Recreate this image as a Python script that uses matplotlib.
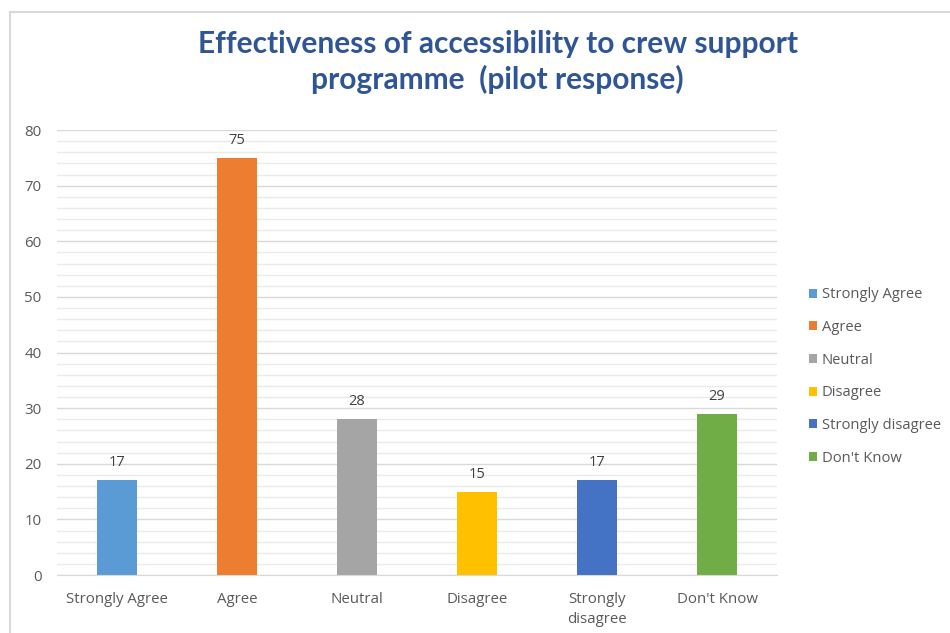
import matplotlib.pyplot as plt
from matplotlib.lines import Line2D
from matplotlib.patches import Patch

categories = ['Strongly Agree', 'Agree', 'Neutral', 'Disagree', 'Strongly disagree', "Don't Know"]
tick_labels = ['Strongly Agree', 'Agree', 'Neutral', 'Disagree', 'Strongly\ndisagree', "Don't Know"]
counts = [17, 75, 28, 15, 17, 29]
colors = ['#5B9BD5', '#ED7D31', '#A5A5A5', '#FFC000', '#4472C4', '#70AD47']

plt.rcParams['font.family'] = ['Open Sans', 'DejaVu Sans']

fig = plt.figure(figsize=(9.5, 6.33), dpi=100)
ax = fig.add_axes([0.060, 0.0916, 0.758, 0.703])

x = range(len(categories))
ax.bar(x, counts, width=0.333, color=colors, zorder=3)
for xi, v in zip(x, counts):
    ax.text(xi, v + 1.8, str(v), ha='center', va='bottom', fontsize=10.5, color='#404040')

ax.set_xlim(-0.5, len(categories) - 0.5)
ax.set_ylim(0, 80)
ax.set_yticks(range(0, 81, 10))
ax.set_yticks(range(0, 81, 2), minor=True)
ax.grid(axis='y', which='major', color='#D9D9D9', linewidth=1.0, zorder=0)
ax.grid(axis='y', which='minor', color='#EAEAEA', linewidth=1.0, zorder=0)
ax.set_xticks(list(x))
ax.set_xticklabels(tick_labels, linespacing=1.45)
ax.tick_params(axis='both', which='both', length=0, labelsize=10.8, labelcolor='#595959')
ax.tick_params(axis='x', pad=12)
ax.tick_params(axis='y', pad=11)
for s in ['top', 'right', 'left']:
    ax.spines[s].set_visible(False)
ax.spines['bottom'].set_color('#D9D9D9')
ax.spines['bottom'].set_zorder(4)

handles = [Patch(facecolor=c, label=l) for c, l in zip(colors, categories)]
fig.legend(handles=handles, loc='center left', bbox_to_anchor=(0.838, 0.405),
           frameon=False, fontsize=10.6, labelcolor='#595959',
           handlelength=0.55, handleheight=0.55, handletextpad=0.3, labelspacing=1.2)

fig.text(0.524, 0.902, 'Effectiveness of accessibility to crew support\nprogramme  (pilot response)',
         ha='center', va='center', fontsize=21.5, fontweight='bold', color='#2F5597',
         linespacing=1.3, family=['Lato', 'DejaVu Sans'])

# chart area border
fig.add_artist(Line2D([10 / 950, 10 / 950], [0, 1 - 12 / 633], transform=fig.transFigure,
                      color='#D9D9D9', linewidth=1.5))
fig.add_artist(Line2D([10 / 950, 1], [1 - 12 / 633, 1 - 12 / 633], transform=fig.transFigure,
                      color='#D9D9D9', linewidth=1.5))

fig.savefig('out.png', dpi=100)
